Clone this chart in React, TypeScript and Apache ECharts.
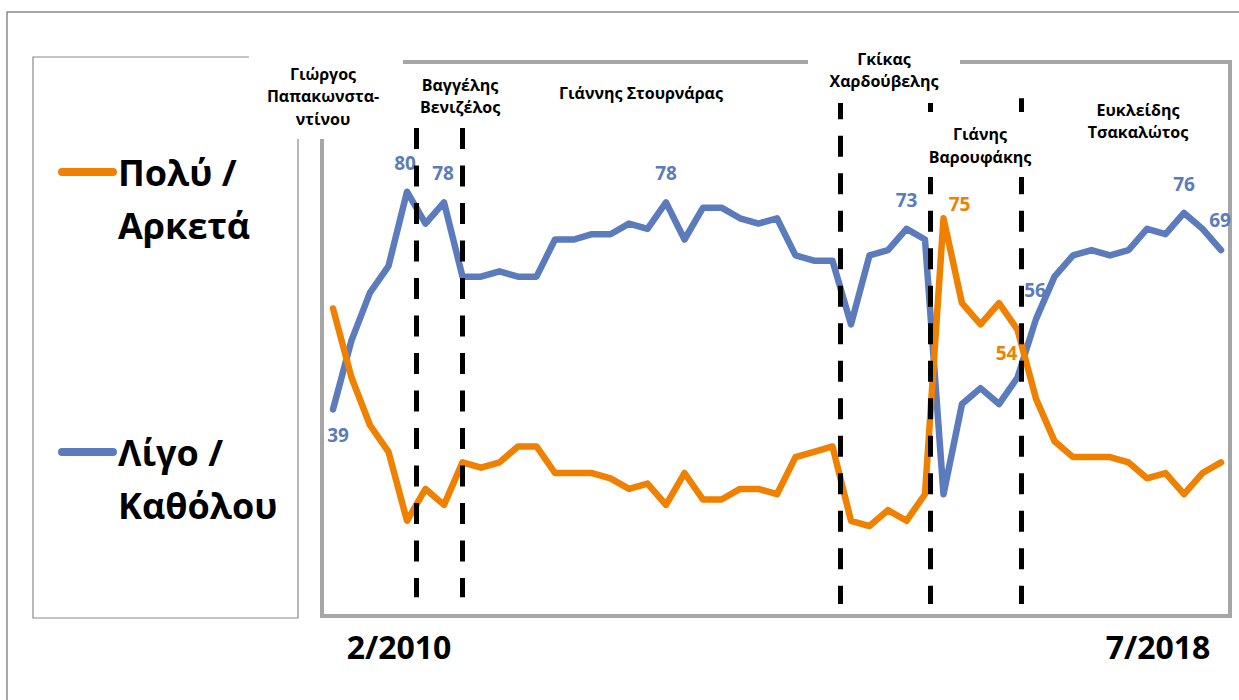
import React, { useEffect, useRef } from "react";
import * as echarts from "echarts";

// ---------------- data ----------------
const seriesNames = ["Πολύ / Αρκετά", "Λίγο / Καθόλου"];
const legendLines = [
  ["Πολύ /", "Αρκετά"],
  ["Λίγο /", "Καθόλου"],
];
const periodLabels = ["2/2010", "7/2018"];

// "Πολύ / Αρκετά" (orange)
const muchValues = [
  58, 45, 36, 31, 18, 24, 21, 29, 28, 29, 32, 32, 27, 27, 27, 26, 24, 25, 21, 27,
  22, 22, 24, 24, 23, 30, 31, 32, 18, 17, 20, 18, 23, 75, 59, 55, 59, 54, 41, 33,
  30, 30, 30, 29, 26, 27, 23, 27, 29,
];
// "Λίγο / Καθόλου" (blue)
const littleValues = [
  39, 52, 61, 66, 80, 74, 78, 64, 64, 65, 64, 64, 71, 71, 72, 72, 74, 73, 78, 71,
  77, 77, 75, 74, 75, 68, 67, 67, 55, 68, 69, 73, 71, 23, 40, 43, 40, 45, 56, 64,
  68, 69, 68, 69, 73, 72, 76, 73, 69,
];

// finance ministers and the survey position where each change happened
const ministers = [
  "Γιώργος\nΠαπακωνστα-\nντίνου",
  "Βαγγέλης\nΒενιζέλος",
  "Γιάννης Στουρνάρας",
  "Γκίκας\nΧαρδούβελης",
  "Γιάνης\nΒαρουφάκης",
  "Ευκλείδης\nΤσακαλώτος",
];
const changeIndex = [4.5, 7, 27.4, 32.3, 37.2];
const changeTop = [92, 92, 97.6, 97.6, 97.6];
const changeBottom = [3.6, 3.6, 2.3, 2.3, 2.3];

const muchLabelIdx = [33, 37];
const littleLabelIdx = [0, 4, 6, 18, 31, 38, 46, 48];

// ---------------- styles / layout ----------------
const ORANGE = "#EF8000";
const BLUE = "#5B7BBD";
const FONT = "'Open Sans', 'Noto Sans', sans-serif";

const muchLabelOffset: Record<number, number[]> = {
  33: [16, -14],
  37: [-11, 23],
};
const littleLabelOffset: Record<number, number[]> = {
  0: [5, 26],
  4: [-2, -29],
  6: [-1, -29],
  18: [0, -29],
  31: [0, -29],
  38: [-1, -29],
  46: [0, -29],
  48: [-1, -30],
};

const ministerPos = [
  { x: 323, y: 96 },
  { x: 460, y: 96 },
  { x: 641, y: 93 },
  { x: 884, y: 70 },
  { x: 980, y: 145.5 },
  { x: 1138, y: 121 },
];

function buildData(values: number[], labelIdx: number[], offsets: Record<number, number[]>, color: string) {
  return values.map((v, i) => {
    if (labelIdx.indexOf(i) >= 0) {
      return {
        value: [i, v],
        label: {
          show: true,
          position: "inside",
          offset: offsets[i] || [0, -29],
          formatter: String(v),
          color,
          fontFamily: FONT,
          fontWeight: "bold",
          fontSize: 19,
        },
      };
    }
    return { value: [i, v] };
  });
}

export default function App() {
  const ref = useRef<HTMLDivElement>(null);

  useEffect(() => {
    if (!ref.current) return;
    const chart = echarts.init(ref.current, undefined, { renderer: "svg" });

    const frameGray = "#A6A6A6";
    const graphic: any[] = [
      // outer frame
      {
        type: "polyline",
        shape: { points: [[7, 700], [7, 12], [1239, 12]] },
        style: { stroke: "#8A8A8A", lineWidth: 1.5, fill: null },
        z: 1,
      },
      // legend box
      {
        type: "polyline",
        shape: { points: [[249, 57], [33, 57], [33, 618], [298, 618], [298, 139]] },
        style: { stroke: "#8A8A8A", lineWidth: 1.2, fill: null },
        z: 1,
      },
      // plot frame
      {
        type: "polyline",
        shape: { points: [[322, 139], [322, 616], [1230, 616], [1230, 62], [960, 62]] },
        style: { stroke: frameGray, lineWidth: 4, fill: null },
        z: 1,
      },
      {
        type: "line",
        shape: { x1: 403, y1: 62, x2: 808, y2: 62 },
        style: { stroke: frameGray, lineWidth: 4 },
        z: 1,
      },
      // white boxes under two minister labels (cover the dashed lines)
      {
        type: "rect",
        shape: { x: 808, y: 40, width: 152, height: 63 },
        style: { fill: "#fff" },
        z: 100,
      },
      {
        type: "rect",
        shape: { x: 921, y: 112, width: 119, height: 65 },
        style: { fill: "#fff" },
        z: 100,
      },
    ];

    ministers.forEach((m, k) => {
      graphic.push({
        type: "text",
        x: ministerPos[k].x,
        y: ministerPos[k].y,
        z: 101,
        style: {
          text: m,
          fill: "#000",
          fontFamily: FONT,
          fontWeight: "bold",
          fontSize: 16,
          lineHeight: 22.5,
          align: "center",
          verticalAlign: "middle",
        },
      });
    });

    // legend
    const legendColors = [ORANGE, BLUE];
    const legendY = [172, 452];
    legendLines.forEach((lines, k) => {
      graphic.push({
        type: "line",
        shape: { x1: 62, y1: legendY[k], x2: 113, y2: legendY[k] },
        style: { stroke: legendColors[k], lineWidth: 8, lineCap: "round" },
        z: 5,
      });
      lines.forEach((t, j) => {
        graphic.push({
          type: "text",
          x: 118,
          y: legendY[k] + j * 53,
          z: 5,
          style: {
            text: t,
            fill: "#000",
            fontFamily: FONT,
            fontWeight: "bold",
            fontSize: 36,
            align: "left",
            verticalAlign: "middle",
          },
        });
      });
    });

    // period labels under the plot
    const periodX = [399, 1158];
    periodLabels.forEach((t, k) => {
      graphic.push({
        type: "text",
        x: periodX[k],
        y: 646,
        z: 5,
        style: {
          text: t,
          fill: "#000",
          fontFamily: FONT,
          fontWeight: "bold",
          fontSize: 32,
          align: "center",
          verticalAlign: "middle",
        },
      });
    });

    const markLineData = changeIndex.map((x, k) => [
      { coord: [x, changeTop[k]] },
      { coord: [x, changeBottom[k]] },
    ]);

    chart.setOption({
      animation: false,
      backgroundColor: "#fff",
      grid: { left: 333, right: 18, top: 85.6, bottom: 83.7 },
      xAxis: { type: "value", min: 0, max: muchValues.length - 1, show: false },
      yAxis: { type: "value", min: 0, max: 100, show: false },
      graphic,
      series: [
        {
          name: seriesNames[0],
          type: "line",
          data: buildData(muchValues, muchLabelIdx, muchLabelOffset, ORANGE),
          color: ORANGE,
          symbol: "circle",
          symbolSize: 1,
          showAllSymbol: true,
          lineStyle: { width: 6.5, color: ORANGE, cap: "round", join: "round" },
          itemStyle: { color: ORANGE },
          z: 3,
          markLine: {
            silent: true,
            symbol: ["none", "none"],
            label: { show: false },
            lineStyle: { color: "#000", width: 5, type: [21, 16.5] },
            data: markLineData,
            z: 10,
          },
        },
        {
          name: seriesNames[1],
          type: "line",
          data: buildData(littleValues, littleLabelIdx, littleLabelOffset, BLUE),
          color: BLUE,
          symbol: "circle",
          symbolSize: 1,
          showAllSymbol: true,
          lineStyle: { width: 6.5, color: BLUE, cap: "round", join: "round" },
          itemStyle: { color: BLUE },
          z: 2,
        },
      ],
    });

    return () => chart.dispose();
  }, []);

  return (
    <div
      ref={ref}
      style={{ position: "fixed", left: 0, top: 0, width: 1239, height: 700, background: "#fff" }}
    />
  );
}
